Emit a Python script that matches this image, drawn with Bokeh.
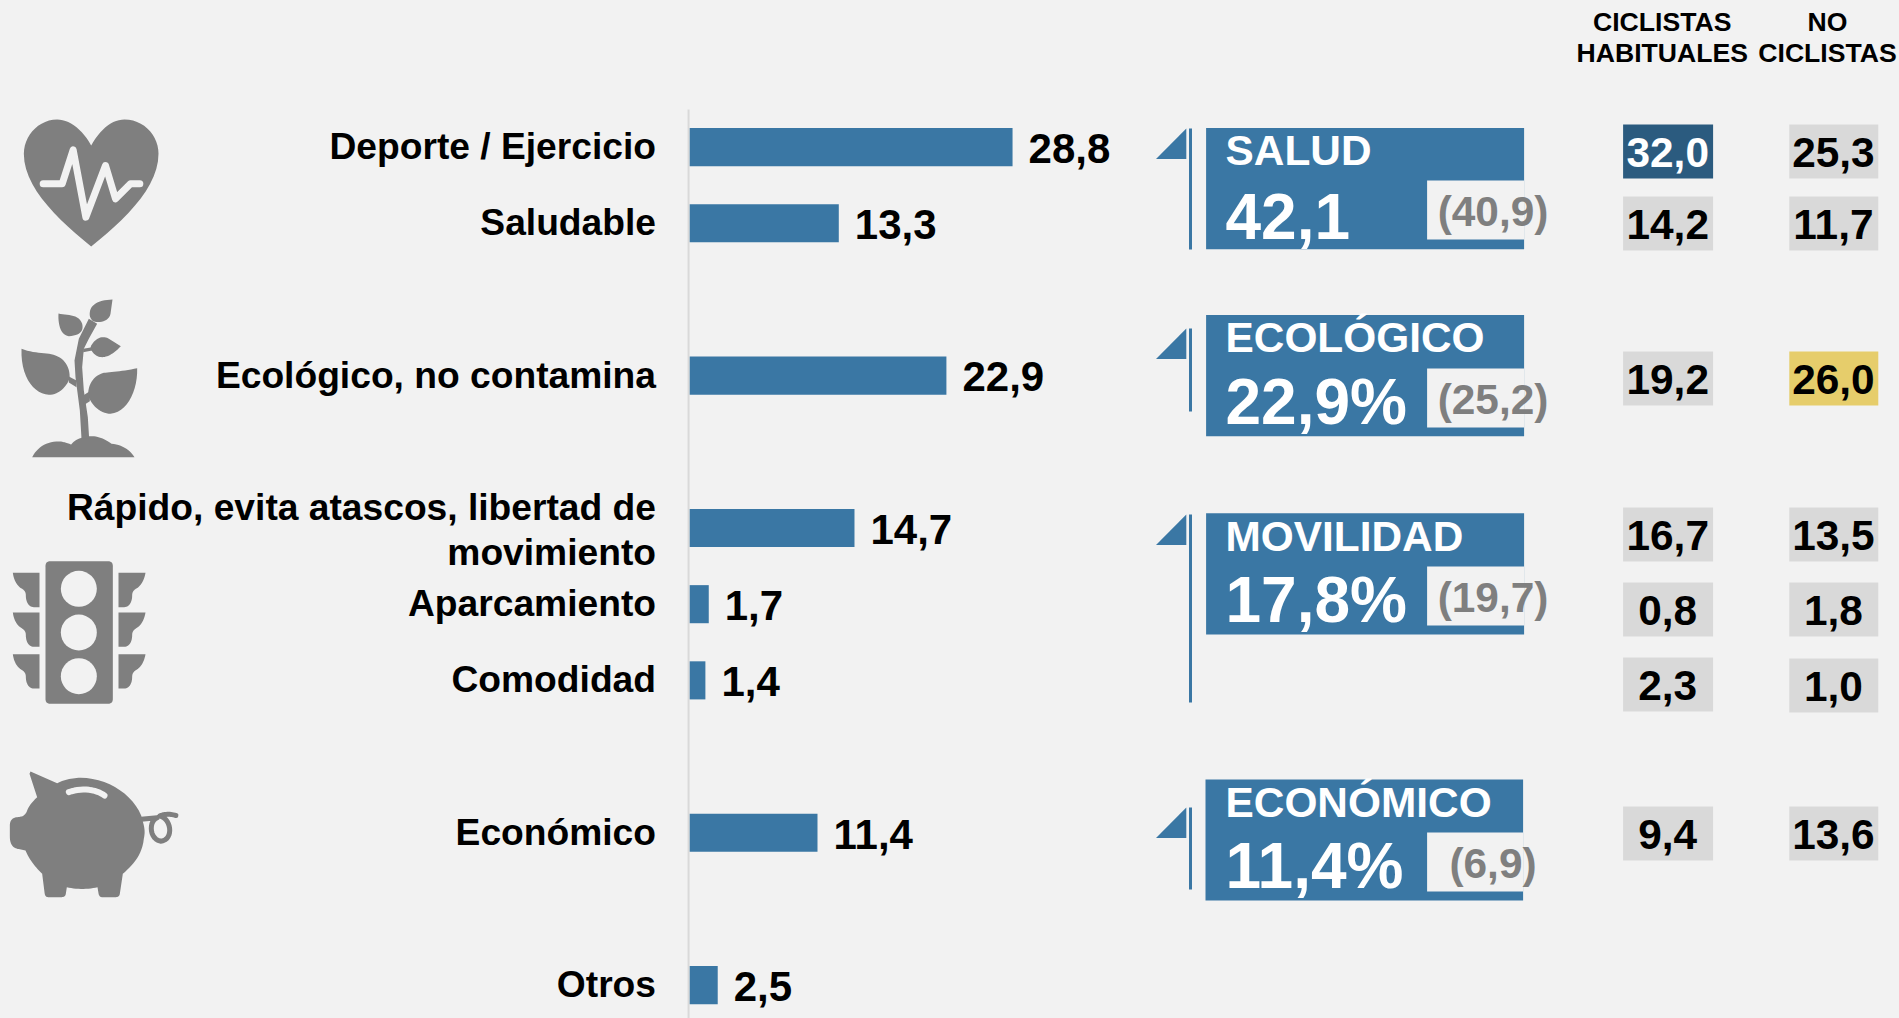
import re
import numpy as np
from bokeh.embed import file_html
from bokeh.models import ColumnDataSource, Range1d
from bokeh.plotting import figure
from bokeh.resources import INLINE
from bokeh.core.properties import value

# ---------- data ----------
categories = ["Deporte / Ejercicio", "Saludable", "Ecológico, no contamina",
              "Rápido, evita atascos, libertad de\nmovimiento", "Aparcamiento",
              "Comodidad", "Económico", "Otros"]
bar_values = [28.8, 13.3, 22.9, 14.7, 1.7, 1.4, 11.4, 2.5]
bar_rows = [0, 1, 3, 5, 6, 7, 9, 11]

group_names = ["SALUD", "ECOLÓGICO", "MOVILIDAD", "ECONÓMICO"]
group_values = ["42,1", "22,9%", "17,8%", "11,4%"]
group_previous = ["(40,9)", "(25,2)", "(19,7)", "(6,9)"]

habitual_values = [32.0, 14.2, 19.2, 16.7, 0.8, 2.3, 9.4]
non_cyclist_values = [25.3, 11.7, 26.0, 13.5, 1.8, 1.0, 13.6]
column_headers = [["CICLISTAS", "HABITUALES"], ["NO", "CICLISTAS"]]

# ---------- layout (page pixels) ----------
W, H = 1899, 1018
BG, BLUE, DARK, YELLOW, CELL, GREY = "#f2f2f2", "#3a77a4", "#2b5b7f", "#e6cd6b", "#d9d9d9", "#7f7f7f"
FONT = value("Liberation Sans")
PX_PER_UNIT, ZERO_X = 11.21, 689.2
ROW0, ROW_H = 146.6, 76.18
BASE = 0.36  # alphabetic-baseline correction, in em

p = figure(width=W, height=H, output_backend="svg", toolbar_location=None,
           x_range=Range1d(0, W), y_range=Range1d(H, 0),
           min_border=0, outline_line_color=None,
           background_fill_color=BG, border_fill_color=BG)
p.axis.visible = False
p.grid.visible = False
p.extra_x_ranges["val"] = Range1d((0 - ZERO_X) / PX_PER_UNIT, (W - ZERO_X) / PX_PER_UNIT)
p.extra_y_ranges["row"] = Range1d((H - ROW0) / ROW_H, (0 - ROW0) / ROW_H)


def txt(x, y, s, size, color="#000000", align="left"):
    p.text([x], [y - BASE * size], text=[s], text_font=FONT, text_font_style="bold",
           text_font_size=f"{size}px", text_color=color, text_align=align,
           text_baseline="alphabetic")


# ---------- bars ----------
p.segment([-0.1], [(109 - ROW0) / ROW_H], [-0.1], [(H - ROW0) / ROW_H], x_range_name="val", y_range_name="row",
          line_color=CELL, line_width=2, name="axis")
bars = ColumnDataSource(dict(y=bar_rows, v=bar_values,
                             lab=[f"{v:.1f}".replace(".", ",") for v in bar_values]))
p.hbar(y="y", right="v", left=0, height=0.5, source=bars, x_range_name="val", y_range_name="row",
       fill_color=BLUE, line_color=None)
p.text(x="v", y="y", text="lab", source=bars, x_range_name="val", y_range_name="row",
       x_offset=16, y_offset=16.4 - BASE * 42, text_font=FONT, text_font_style="bold", text_font_size="42px",
       text_color="#000000", text_baseline="alphabetic")

# category labels (multi-line labels are split at the newline)
lab_y, lab_t, lab_off = [], [], []
for row, cat in zip(bar_rows, categories):
    lines = cat.split("\n")
    extra = 2.5 if len(lines) > 1 else 0
    for k, line in enumerate(lines):
        lab_y.append(row)
        lab_t.append(line)
        lab_off.append((k - (len(lines) - 1) / 2) * 45 + 12.4 + extra - BASE * 37.2)
labs = ColumnDataSource(dict(x=[655.5] * len(lab_y), y=lab_y, t=lab_t, off=lab_off))
p.text(x="x", y="y", text="t", y_offset="off", source=labs, y_range_name="row",
       text_font=FONT, text_font_style="bold", text_font_size="37.2px",
       text_color="#000000", text_align="right", text_baseline="alphabetic")

# ---------- group boxes ----------
box_left = [1205.6, 1205.6, 1205.6, 1205]
box_right = [1523.6, 1523.6, 1523.6, 1522.6]
box_top = [127.5, 314.5, 512.8, 779]
box_bottom = [248.7, 435.7, 634, 900]
inset_top = [180, 368, 566, 832]
inset_bottom = [239, 427, 625, 891]
flag_top = [128, 328, 514, 807]
stem_bottom = [249, 411, 702, 889]
p.quad(left=box_left, right=box_right, top=box_top, bottom=box_bottom, fill_color=BLUE, line_color=None)
p.quad(left=[1426.6] * 4, right=box_right, top=inset_top, bottom=inset_bottom, fill_color=BG, line_color=None)
p.segment([1190] * 4, flag_top, [1190] * 4, stem_bottom, line_color=BLUE, line_width=3)
p.patches([[1155.5, 1185.8, 1185.8] for _ in flag_top],
          [[t + 30.5, t, t + 30.5] for t in flag_top], fill_color=BLUE, line_color=None)
big_baseline = [111.5, 110, 110, 110]
for i in range(4):
    txt(1225, box_top[i] + 38, group_names[i], 42.4, "#ffffff")
    txt(1225, box_top[i] + big_baseline[i], group_values[i], 64, "#ffffff")
    txt(1492.5, inset_top[i] + 46, group_previous[i], 42.4, GREY, "center")

# ---------- table ----------
cell_center = [151, 223, 378, 534, 609, 684, 833]
cell_center_b = [151, 223, 378, 534, 609, 685, 833]
for j, (vals, cx0, cx1, centers) in enumerate([(habitual_values, 1622.6, 1712.6, cell_center),
                                               (non_cyclist_values, 1788.8, 1877.8, cell_center_b)]):
    fills = [CELL] * len(vals)
    colors = ["#000000"] * len(vals)
    if j == 0:
        fills[0], colors[0] = DARK, "#ffffff"
    else:
        fills[2] = YELLOW
    p.quad(left=[cx0] * len(vals), right=[cx1] * len(vals),
           top=[c - 27 for c in centers], bottom=[c + 27 for c in centers],
           fill_color=fills, line_color=None)
    mid = (cx0 + cx1) / 2
    for v, c, col in zip(vals, centers, colors):
        txt(mid - 0.4, c + 16, f"{v:.1f}".replace(".", ","), 42.4, col, "center")
for (a, b), cx in zip(column_headers, [1661.7, 1827]):
    txt(cx, 31, a, 26.6, "#000000", "center")
    txt(cx, 62.5, b, 26.6, "#000000", "center")


# ---------- icons (drawn from zoom-space paths) ----------
def path(d, ox, oy, n=14):
    tok = re.findall(r"[MLCZ]|-?\d+\.?\d*", d)
    xs, ys, i, cur = [], [], 0, None
    while i < len(tok):
        c = tok[i]
        if c in "ML":
            cur = (float(tok[i + 1]), float(tok[i + 2]))
            xs.append(cur[0]); ys.append(cur[1]); i += 3
        elif c == "C":
            i += 1
            while i < len(tok) and tok[i] not in "MLCZ":
                q = [float(t) for t in tok[i:i + 6]]
                for t in np.linspace(0, 1, n)[1:]:
                    u = 1 - t
                    xs.append(u**3 * cur[0] + 3*u*u*t*q[0] + 3*u*t*t*q[2] + t**3*q[4])
                    ys.append(u**3 * cur[1] + 3*u*u*t*q[1] + 3*u*t*t*q[3] + t**3*q[5])
                cur = (q[4], q[5]); i += 6
        else:
            i += 1
    return [ox + x / 3 for x in xs], [oy + y / 3 for y in ys]


def fill(paths, ox, oy, color=GREY):
    pts = [path(d, ox, oy) for d in paths]
    p.patches([a for a, _ in pts], [b for _, b in pts], fill_color=color, line_color=None)


def stroke(d, ox, oy, width, color):
    x, y = path(d, ox, oy)
    p.line(x, y, line_color=color, line_width=width, line_join="round", line_cap="round")


# heart
fill(["M272 165 C245 115 205 87 170 87 C115 87 70 135 70 190 C70 290 170 385 272 468 "
      "C375 385 474 290 474 190 C474 135 430 87 372 87 C335 87 300 115 272 165 Z"], 0, 90)
stroke("M128 280 L185 280 L218 178 L256 380 L315 225 L345 325 L390 280 L418 280", 0, 90, 7, BG)

# plant
fill(["M336 627 C300 628 270 640 268 665 C266 680 272 685 275 690 C290 700 325 695 330 670 Z",
      "M174 669 C200 675 235 670 245 700 C250 720 240 735 205 737 C180 735 172 700 174 669 Z",
      "M272 765 C290 735 315 737 325 745 L361 767 C340 790 320 800 305 800 C290 800 275 790 270 772 Z",
      "M63 775 C100 790 140 785 165 795 C195 805 210 835 207 865 C195 895 170 913 145 913 C100 910 60 860 63 775 Z",
      "M410 833 C370 842 330 845 310 847 C280 855 262 880 263 915 C275 950 305 970 330 970 C380 965 412 900 410 833 Z",
      "M95 1100 C110 1070 140 1052 175 1053 C190 1053 200 1058 212 1062 C225 1045 250 1037 275 1037 "
      "C300 1038 320 1050 333 1060 C365 1062 390 1080 402 1100 Z",
      "M243 1045 L238 960 L225 860 L222 810 L235 745 L265 685 L290 700 L265 745 L250 775 L245 830 L250 900 L262 980 L266 1045 Z",
      "M205 858 L228 870 L228 890 L205 876 Z", "M248 775 L275 770 L275 780 L248 785 Z",
      "M248 915 L268 902 L268 932 L248 945 Z"], 0, 90)

# traffic light
light = "M150 62 L322 62 C332 62 337 67 337 77 L337 475 C337 485 332 490 322 490 L150 490 C140 490 135 485 135 475 L135 77 C135 67 140 62 150 62 Z"
fill([light], 0, 540)
for top in (97, 216, 341):
    t = top
    fill([f"M37 {t} L117 {t} L117 {t+103} L100 {t+103} C85 {t+103} 76 {t+88} 76 {t+68} "
          f"C76 {t+58} 72 {t+53} 65 {t+48} C50 {t+40} 40 {t+23} 37 {t} Z",
          f"M435 {t} L354 {t} L354 {t+103} L371 {t+103} C386 {t+103} 395 {t+88} 395 {t+68} "
          f"C395 {t+58} 399 {t+53} 406 {t+48} C421 {t+40} 431 {t+23} 435 {t} Z"], 0, 540)
p.circle([235 / 3] * 3, [540 + c / 3 for c in (145, 276, 407)], radius=18, fill_color=BG, line_color=None)

# piggy bank
fill(["M90 693 L170 728 C190 718 215 712 240 712 C320 712 395 760 422 825 C432 860 435 870 430 895 "
      "C425 945 395 975 367 1000 L358 1060 C356 1068 352 1070 345 1070 L305 1070 C298 1070 295 1065 294 1058 "
      "L291 1040 C265 1047 225 1047 199 1040 L196 1060 C194 1068 190 1070 182 1070 L145 1070 C135 1070 133 1065 132 1055 "
      "L125 1000 C105 980 88 960 75 930 C60 925 45 928 35 915 C28 905 28 895 28 880 L28 855 C28 840 35 832 50 830 "
      "C65 828 70 828 78 815 C85 795 95 785 110 770 L87 700 Z"], 0, 540)
stroke("M205 755 C240 742 285 745 312 765", 0, 540, 6, BG)
stroke("M422 836 L470 832 C445 840 445 895 480 902 C515 900 515 850 490 832 L478 826 C495 820 510 820 526 825", 0, 540, 5, GREY)

html = file_html(p, INLINE)
html = html.replace("<head>", "<head><style>html,body{background:#f2f2f2}</style>", 1)
open("out.html", "w").write(html)
